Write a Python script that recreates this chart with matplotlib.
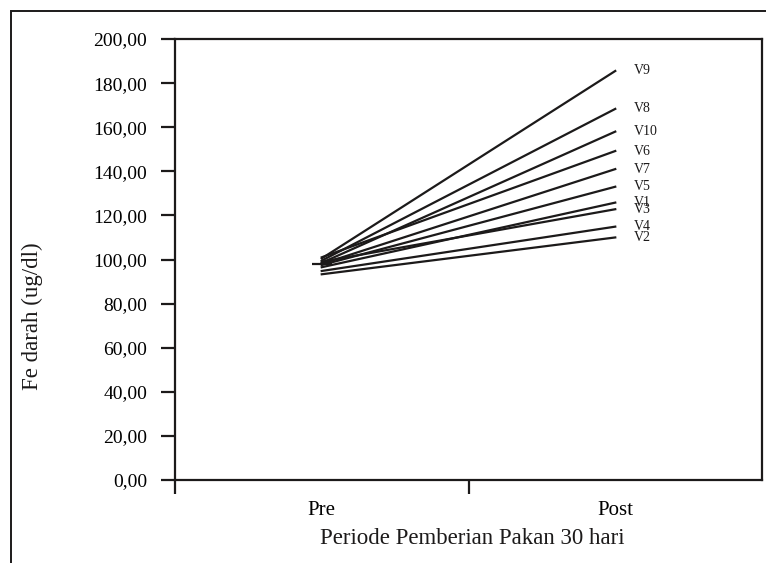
import matplotlib
matplotlib.use("Agg")
import matplotlib.pyplot as plt
from matplotlib.patches import Rectangle

# Fe darah per vial, before and after 30 days of feeding
periods = ["Pre", "Post"]
names = ["V1", "V2", "V3", "V4", "V5", "V6", "V7", "V8", "V9", "V10"]
pre = [96.5, 93.3, 99.0, 94.8, 97.5, 101.0, 98.0, 99.5, 100.5, 98.5]
post = [125.8, 110.0, 122.8, 114.9, 133.0, 149.2, 141.0, 168.3, 185.5, 158.0]
yticks = [0, 20, 40, 60, 80, 100, 120, 140, 160, 180, 200]

plt.rcParams['font.family'] = ['Liberation Serif', 'DejaVu Serif']
ink = '#1c1a1a'

fig = plt.figure(figsize=(7.66, 5.63), dpi=100)
ax = fig.add_axes([175 / 766, 1 - 480 / 563, 587 / 766, 441 / 563])

# outer frame (cut off at right/bottom like the scan)
fig.patches.append(Rectangle((11 / 766, -0.1), 1.2, 1 - 11 / 563 + 0.1,
                             transform=fig.transFigure, fill=False,
                             edgecolor=ink, linewidth=1.4))

x = [0, 1]
for n, a, b in zip(names, pre, post):
    ax.plot(x, [a, b], color=ink, linewidth=1.6)
    ax.text(1.065, b, n, fontsize=10, ha='left', va='center', color=ink)
ax.plot([0], [pre[6]], marker='_', markersize=14, color=ink, mew=1.6)

ax.set_xlim(-0.5, 1.5)
ax.set_ylim(0, 200)
ax.set_yticks(yticks)
ax.set_yticklabels([f"{v:.2f}".replace('.', ',') for v in yticks])
ax.set_xticks([-0.5, 0.5])
ax.set_xticklabels([])
ax.set_xticks(x, minor=True)
ax.set_xticklabels(periods, minor=True)
ax.tick_params(axis='x', which='minor', length=0, pad=15, labelsize=15)
ax.tick_params(axis='x', which='major', length=10, width=1.6, color=ink)
ax.tick_params(axis='y', length=10, width=1.6, pad=10, labelsize=14, color=ink)
for s in ax.spines.values():
    s.set_linewidth(1.6)
    s.set_color(ink)

fig.text(472 / 766, 1 - 539 / 563, "Periode Pemberian Pakan 30 hari",
         fontsize=16.5, ha='center', va='center', color=ink)
fig.text(32 / 766, 1 - 316 / 563, "Fe darah (ug/dl)", fontsize=16.5,
         rotation=90, ha='center', va='center', color=ink)

fig.savefig("out.png", dpi=100)
